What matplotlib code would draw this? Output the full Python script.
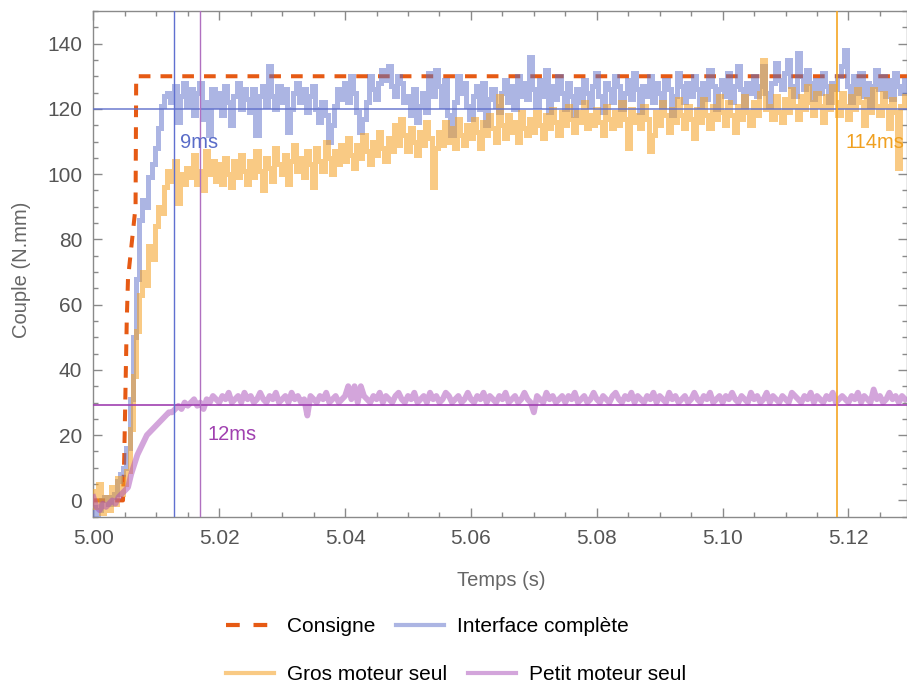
import numpy as np
import matplotlib
matplotlib.use("Agg")
import matplotlib.pyplot as plt
from matplotlib.lines import Line2D

# ---------------- data ----------------
t_start = 5.000
t_step = 0.0005   # s, sampling of the read-off series

interface_complete = [
    -2, -5, -3, 0, 1, -1, 1, 2, 6, 8,
    10, 16, 31, 50, 68, 86, 92, 90, 99, 103,
    108, 114, 121, 124, 125, 122, 127, 116, 124, 128,
    121, 126, 118, 125, 128, 117, 122, 112, 126, 121,
    125, 118, 127, 122, 115, 124, 128, 120, 126, 123,
    119, 126, 112, 124, 127, 121, 133, 124, 120, 127,
    122, 126, 113, 120, 125, 128, 122, 126, 119, 124,
    127, 120, 116, 122, 118, 110, 115, 121, 126, 123,
    128, 122, 130, 125, 119, 113, 117, 122, 130, 126,
    123, 128, 132, 129, 133, 127, 124, 130, 128, 122,
    124, 118, 126, 116, 121, 125, 119, 131, 124, 132,
    127, 121, 129, 118, 112, 122, 130, 125, 128, 121,
    117, 124, 127, 120, 128, 115, 123, 126, 121, 119,
    125, 129, 122, 127, 120, 130, 124, 128, 123, 136,
    126, 121, 129, 124, 132, 119, 127, 123, 130, 125,
    120, 128, 124, 118, 126, 122, 129, 125, 121, 127,
    131, 124, 119, 128, 126, 122, 130, 127, 120, 125,
    129, 123, 131, 126, 119, 127, 124, 130, 122, 128,
    125, 121, 129, 126, 118, 124, 131, 127, 122, 128,
    124, 130, 126, 121, 128, 123, 132, 127, 120, 126,
    129, 124, 131, 122, 127, 133, 126, 121, 128, 125,
    130, 124, 127, 133, 125, 121, 128, 134, 129, 126,
    131, 135, 127, 124, 137, 130, 126, 132, 128, 123,
    129, 125, 131, 127, 122, 128, 126, 130, 133, 138,
    127, 122, 130, 125, 131, 124, 128, 121, 127, 132,
    126, 130, 124, 129, 123, 131, 127, 125, 129,
]

gros_moteur = [
    3, -2, 5, -4, 1, -3, 4, -1, 7, 2,
    5, 9, 22, 38, 52, 63, 70, 66, 78, 74,
    84, 90, 88, 96, 101, 98, 104, 91, 100, 97,
    102, 99, 106, 97, 101, 95, 107, 100, 104, 98,
    103, 97, 105, 100, 96, 104, 99, 106, 101, 97,
    104, 99, 107, 101, 95, 105, 102, 98, 108, 103,
    100, 106, 97, 104, 109, 101, 105, 99, 107, 103,
    96, 108, 104, 101, 110, 105, 100, 107, 103, 109,
    104, 111, 106, 102, 109, 105, 112, 107, 103, 110,
    106, 113, 108, 104, 111, 107, 115, 109, 117, 112,
    107, 114, 110, 106, 113, 109, 116, 111, 96, 108,
    113, 109, 116, 110, 114, 108, 117, 112, 109, 115,
    111, 117, 113, 108, 116, 112, 118, 114, 110, 124,
    115, 111, 118, 113, 116, 110, 119, 114, 112, 117,
    113, 119, 115, 111, 118, 114, 120, 116, 112, 119,
    115, 121, 117, 113, 119, 116, 122, 114, 118, 115,
    120, 116, 112, 121, 117, 114, 119, 115, 122, 117,
    108, 120, 116, 118, 114, 121, 117, 107, 112, 119,
    115, 122, 118, 113, 120, 116, 123, 118, 114, 121,
    117, 111, 120, 116, 123, 118, 114, 121, 117, 124,
    119, 115, 122, 118, 113, 121, 117, 124, 119, 115,
    122, 118, 125, 135, 120, 121, 117, 124, 119, 116,
    123, 119, 126, 121, 117, 124, 120, 127, 122, 118,
    125, 121, 116, 124, 120, 127, 122, 118, 125, 121,
    117, 124, 120, 126, 122, 115, 123, 119, 126, 121,
    118, 125, 121, 114, 123, 119, 102, 121, 124,
]

petit_moteur = [
    1, -2, -3, -1, -2, -1, 0, -1, 1, 2,
    3, 4, 8, 11, 14, 16, 18, 20, 21, 22,
    23, 24, 25, 26, 27, 27, 28, 29, 28, 30,
    29, 30, 31, 29, 30, 28, 31, 30, 32, 31,
    30, 32, 31, 33, 30, 31, 32, 30, 33, 31,
    32, 30, 31, 33, 31, 30, 32, 31, 33, 30,
    31, 32, 30, 33, 31, 32, 30, 31, 26, 32,
    31, 30, 32, 31, 33, 30, 31, 32, 30, 31,
    32, 35, 31, 35, 30, 35, 32, 31, 30, 32,
    31, 33, 30, 32, 31, 30, 32, 33, 31, 30,
    32, 31, 33, 30, 31, 32, 30, 33, 31, 32,
    30, 31, 33, 32, 30, 31, 32, 30, 31, 33,
    31, 30, 32, 31, 33, 30, 32, 31, 30, 32,
    31, 33, 30, 31, 32, 30, 31, 33, 31, 30,
    27, 32, 31, 30, 33, 31, 32, 30, 31, 32,
    30, 32, 31, 33, 30, 31, 32, 30, 31, 33,
    31, 30, 32, 31, 30, 32, 33, 31, 30, 32,
    31, 33, 30, 32, 31, 30, 32, 31, 33, 30,
    32, 31, 30, 33, 31, 32, 30, 31, 32, 30,
    31, 33, 31, 30, 32, 31, 33, 30, 31, 32,
    30, 32, 31, 33, 31, 30, 32, 31, 30, 33,
    31, 32, 30, 31, 33, 30, 32, 31, 30, 32,
    31, 30, 33, 32, 31, 30, 32, 31, 33, 30,
    32, 31, 30, 32, 31, 33, 30, 31, 32, 31,
    30, 32, 31, 33, 30, 32, 31, 30, 34, 31,
    32, 30, 31, 33, 31, 32, 30, 32, 31,
]

consigne_t = [5.0, 5.0047, 5.0049, 5.0053, 5.0055, 5.0067, 5.0068, 5.1293]
consigne_v = [0, 0, 13, 55, 68, 90, 130, 130]

# reference markers
t_interface = 5.0128
t_petit = 5.0169
t_gros = 5.1182
lvl_interface = 120
lvl_petit = 29.3
label_interface = "9ms"
label_petit = "12ms"
label_gros = "114ms"

x_ticks = [5.00, 5.02, 5.04, 5.06, 5.08, 5.10, 5.12]
y_ticks = [0, 20, 40, 60, 80, 100, 120, 140]

# ---------------- plotting ----------------
plt.rcParams['font.family'] = ['Liberation Sans', 'DejaVu Sans']

W, H = 907, 686
fig = plt.figure(figsize=(W / 100, H / 100), dpi=100)
ax = fig.add_axes([93.4 / W, 1 - 516.7 / H, (W - 93.4) / W, (516.7 - 11) / H])

n = len(interface_complete)
t = t_start + t_step * np.arange(n)

c_cons = '#E65A14'
c_blue = '#5A6CC8'
c_orange = '#F5A020'
c_purple = '#A84CB8'

lw = 3.6
ax.plot(consigne_t, consigne_v, color=c_cons, lw=2.9, ls=(0, (2.9, 2.5)),
        dash_capstyle='butt', zorder=2)
ax.plot(t, interface_complete, color=c_blue, alpha=0.5, lw=lw, zorder=3,
        drawstyle='steps-mid', solid_joinstyle='miter')
ax.plot(t, gros_moteur, color=c_orange, alpha=0.55, lw=lw, zorder=4,
        drawstyle='steps-mid', solid_joinstyle='miter')
ax.plot(t, petit_moteur, color=c_purple, alpha=0.5, lw=4.2, zorder=5,
        solid_joinstyle='round')

ax.axhline(lvl_interface, color='#6070CC', lw=1.2, alpha=0.85, zorder=6)
ax.axhline(lvl_petit, color='#A040B0', lw=1.2, zorder=6)
ax.axvline(t_interface, color='#6070D0', lw=1.0, zorder=6)
ax.axvline(t_petit, color='#B070C0', lw=1.0, zorder=6)
ax.axvline(t_gros, color='#F5A623', lw=1.2, zorder=6)

ax.text(5.01377, 109.6, label_interface, color='#5A6CC8', fontsize=14.5,
        ha='left', va='center', zorder=7)
ax.text(5.01806, 20.1, label_petit, color='#A040B0', fontsize=14.5,
        ha='left', va='center', zorder=7)
ax.text(5.1196, 109.6, label_gros, color='#F0A020', fontsize=14.5,
        ha='left', va='center', zorder=7, clip_on=False)

ax.set_xlim(5.0, 5.1293)
ax.set_ylim(-4.5, 150)
ax.set_xticks(x_ticks)
ax.set_xticklabels([f"{v:.2f}" for v in x_ticks])
ax.set_yticks(y_ticks)
ax.set_xticks(np.arange(5.0, 5.13, 0.005), minor=True)
ax.set_yticks(np.arange(-5, 151, 5), minor=True)

for s in ax.spines.values():
    s.set_color('#8a8a8a')
    s.set_linewidth(1.0)
ax.tick_params(which='both', direction='in', top=True, right=True,
               color='#8a8a8a', width=1.0)
ax.tick_params(which='major', length=6.5, labelsize=15, labelcolor='#555555')
ax.tick_params(which='minor', length=3.6)
ax.tick_params(axis='x', which='major', pad=9)
ax.tick_params(axis='y', which='major', pad=8)

fig.text(501 / W, 1 - 581 / H, "Temps (s)", ha='center', va='center',
         fontsize=14.5, color='#666666')
fig.text(22 / W, 1 - 270 / H, "Couple (N.mm)", ha='center', va='center',
         rotation=90, fontsize=14.5, color='#666666')

# legends (two rows, left-aligned)
h_cons = Line2D([], [], color=c_cons, lw=3.0, ls=(0, (3.3, 3.3)), dash_capstyle='butt')
h_blue = Line2D([], [], color=c_blue, alpha=0.5, lw=3.0)
h_orange = Line2D([], [], color=c_orange, alpha=0.55, lw=3.0)
h_purple = Line2D([], [], color=c_purple, alpha=0.5, lw=3.0)

common = dict(frameon=False, fontsize=15, handlelength=2.3, handletextpad=0.63,
              columnspacing=1.0, borderpad=0, borderaxespad=0, ncol=2,
              loc='center left')
leg1 = fig.legend([h_cons, h_blue], ["Consigne", "Interface complète"],
                  bbox_to_anchor=(226 / W, 1 - 627 / H), **common)
leg2 = fig.legend([h_orange, h_purple], ["Gros moteur seul", "Petit moteur seul"],
                  bbox_to_anchor=(226 / W, 1 - 675 / H), **common)

fig.savefig("out.png", dpi=100)
